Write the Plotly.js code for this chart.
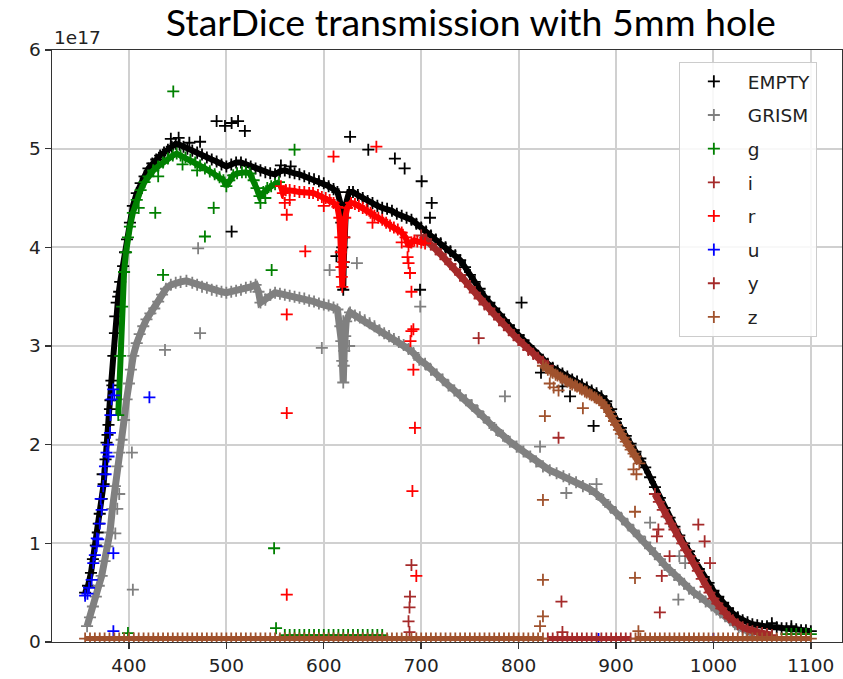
<!DOCTYPE html>
<html>
<head>
<meta charset="utf-8">
<script src="https://cdn.plot.ly/plotly-3.0.1.min.js"></script>
<style>html,body{margin:0;padding:0;background:#fff;}#chart{width:843px;height:679px;}</style>
</head>
<body>
<div id="chart"></div>
<script>
// Series names (legend order = drawing order)
const seriesNames = ['EMPTY', 'GRISM', 'g', 'i', 'r', 'u', 'y', 'z'];
const seriesColors = ['#000000', '#808080', '#008000', '#a52a2a', '#ff0000', '#0000ff', '#a52a2a', '#a0522d'];
const xTickVals = [400, 500, 600, 700, 800, 900, 1000, 1100];
const yTickVals = [0, 1, 2, 3, 4, 5, 6];
const yTickText = ['0', '1', '2', '3', '4', '5', '6'];

// Flux in units of 1e17, points are [wavelength nm, value]
const emptyCurve = [[355,0.50],[358,0.57],[361,0.70],[363,0.84],[366,0.98],[368,1.11],[370,1.30],[372,1.45],[374,1.60],[376,1.85],[377,2.02],[379,2.20],[380.5,2.36],[382,2.65],[384,2.90],[385.6,3.13],[387.4,3.44],[389,3.50],[391,3.65],[394,3.81],[396,3.95],[398,4.08],[401,4.25],[404,4.42],[408,4.55],[412,4.65],[416,4.72],[420,4.80],[424,4.85],[428,4.89],[432,4.93],[436,4.96],[440,4.99],[444,5.02],[448,5.05],[452,5.04],[456,5.02],[460,5.00],[465,4.98],[470,4.96],[475,4.94],[480,4.91],[485,4.89],[490,4.87],[495,4.84],[500,4.82],[505,4.84],[510,4.86],[515,4.86],[520,4.84],[525,4.82],[530,4.80],[535,4.78],[540,4.76],[545,4.75],[550,4.74],[555,4.77],[560,4.78],[565,4.76],[570,4.75],[575,4.74],[580,4.72],[585,4.70],[590,4.69],[595,4.67],[600,4.65],[605,4.62],[610,4.59],[614,4.56],[617,4.45],[618,4.25],[619,4.00],[619.5,3.80],[620,3.57],[620.5,3.85],[621,4.10],[623,4.45],[626,4.56],[630,4.56],[635,4.53],[640,4.50],[645,4.47],[650,4.45],[655,4.42],[660,4.40],[665,4.39],[670,4.37],[675,4.34],[680,4.32],[685,4.30],[690,4.28],[695,4.24],[700,4.20],[705,4.16],[710,4.12],[715,4.08],[720,4.04],[725,4.00],[730,3.96],[735,3.92],[740,3.87],[745,3.80],[750,3.72],[755,3.65],[760,3.58],[765,3.50],[770,3.44],[775,3.38],[780,3.32],[785,3.26],[790,3.21],[795,3.16],[800,3.11],[805,3.06],[810,3.00],[815,2.95],[820,2.90],[825,2.86],[830,2.82],[835,2.78],[840,2.75],[845,2.72],[850,2.69],[855,2.66],[860,2.64],[865,2.61],[870,2.58],[875,2.55],[880,2.52],[885,2.49],[890,2.44],[895,2.36],[900,2.26],[905,2.17],[910,2.09],[915,2.01],[920,1.93],[925,1.86],[930,1.77],[935,1.67],[940,1.57],[945,1.46],[950,1.36],[955,1.26],[960,1.17],[965,1.08],[970,1.00],[975,0.92],[980,0.83],[985,0.74],[990,0.66],[995,0.60],[1000,0.52],[1005,0.46],[1010,0.40],[1015,0.34],[1020,0.29],[1025,0.25],[1030,0.22],[1035,0.20],[1040,0.18],[1045,0.17],[1050,0.16],[1055,0.16],[1060,0.15],[1065,0.15],[1070,0.14],[1075,0.14],[1080,0.13],[1085,0.13],[1090,0.12],[1095,0.12],[1100,0.11]];
const emptyScatter = [[443,5.10],[451,5.11],[490,5.28],[498.6,5.23],[505.4,5.26],[512,5.28],[519,5.18],[473,5.07],[505.4,4.16],[627,5.12],[645.7,4.99],[673,4.90],[683,4.80],[700.5,4.67],[710.8,4.45],[709,4.30],[613,3.91],[698.8,3.57],[803,3.44],[823,2.73],[845,2.59],[852.8,2.49],[877,2.19],[381,2.45],[383,2.60],[386,3.30],[378,2.10],[373,1.70],[369,1.20],[390,3.55],[462,5.06],[556,4.83],[566,4.82],[1060,0.19],[1080,0.16]];

const grismCurve = [[357,0.16],[360,0.25],[363,0.36],[366,0.46],[369,0.57],[372,0.67],[375,0.82],[378,0.97],[380.5,1.11],[383,1.35],[385.6,1.58],[388,1.78],[390,1.92],[392.5,2.05],[395,2.25],[397.6,2.46],[400,2.62],[402,2.76],[404.4,2.90],[408,3.03],[411,3.12],[414.7,3.20],[418,3.27],[422,3.33],[426,3.38],[430,3.45],[434,3.52],[438,3.58],[443,3.62],[448,3.64],[453,3.65],[459,3.66],[465,3.64],[470,3.62],[475,3.60],[480,3.59],[485,3.57],[490,3.56],[495,3.55],[500,3.54],[505,3.55],[510,3.56],[515,3.57],[520,3.59],[525,3.60],[530,3.62],[533,3.55],[535,3.44],[540,3.47],[545,3.52],[550,3.54],[555,3.53],[560,3.52],[565,3.51],[570,3.50],[575,3.49],[580,3.48],[585,3.46],[590,3.45],[595,3.43],[600,3.42],[605,3.41],[610,3.39],[614,3.37],[617,3.20],[618,3.05],[619,2.85],[620,2.63],[620.5,2.80],[621,2.95],[622,3.10],[623,3.25],[627,3.34],[632,3.31],[637,3.29],[642,3.26],[647,3.23],[652,3.20],[657,3.16],[662,3.13],[667,3.10],[672,3.07],[677,3.04],[682,3.01],[687,2.97],[692,2.93],[698,2.86],[704,2.82],[710,2.76],[716,2.71],[722,2.66],[728,2.60],[734,2.55],[740,2.50],[746,2.45],[752,2.40],[758,2.34],[764,2.28],[770,2.22],[777,2.15],[784,2.09],[791,2.03],[798,1.98],[805,1.93],[812,1.88],[818,1.83],[825,1.78],[832,1.74],[839,1.71],[846,1.68],[852,1.65],[859,1.62],[866,1.58],[873,1.55],[880,1.50],[887,1.44],[894,1.37],[900,1.31],[906,1.25],[912,1.19],[918,1.13],[924,1.07],[930,1.01],[935,0.95],[940,0.89],[945,0.84],[950,0.78],[955,0.73],[960,0.68],[965,0.63],[970,0.59],[975,0.54],[980,0.50],[986,0.46],[992,0.41],[998,0.37],[1003,0.33],[1007,0.30],[1012,0.26],[1017,0.22],[1022,0.18],[1026,0.15],[1030,0.13],[1034,0.11],[1038,0.10],[1042,0.08]];
const grismScatter = [[473,3.13],[437,2.96],[598,2.98],[606,3.77],[403,1.92],[404,0.53],[634,3.84],[699,3.40],[786,2.49],[822,1.98],[849,1.51],[880,1.60],[935,1.21],[965,0.87],[971,0.80],[964,0.43],[471,3.99],[388,1.35],[390,1.50],[386,1.10],[620,3.25],[626,3.00]];

const gCurve = [[389,2.30],[391,2.90],[393,3.40],[395,3.75],[397,3.95],[399,4.10],[401,4.21],[404,4.35],[408,4.48],[412,4.58],[416,4.66],[420,4.72],[425,4.78],[430,4.82],[435,4.86],[440,4.90],[445,4.93],[449,4.95],[453,4.93],[458,4.91],[463,4.89],[468,4.86],[473,4.83],[478,4.80],[483,4.77],[488,4.74],[493,4.71],[497,4.68],[500,4.62],[503,4.68],[507,4.73],[511,4.75],[516,4.76],[520,4.76],[524,4.75],[528,4.68],[531,4.60],[534,4.52],[538,4.56],[542,4.60],[546,4.62],[550,4.64],[554,4.66]];
const gScatter = [[410,4.40],[430,4.72],[455,4.84],[470,4.78],[535,4.45],[540,4.50],[445.5,5.58],[427,4.35],[435,3.72],[478,4.11],[487,4.40],[546.5,3.77],[570,4.99],[549,0.95],[551,0.14],[399,0.09]];
const gBaseA = [[560,0.07],[565,0.07],[570,0.07],[575,0.07],[580,0.07],[585,0.07],[590,0.07],[595,0.07],[600,0.07],[605,0.07],[610,0.07],[615,0.07],[620,0.07],[625,0.07],[630,0.07],[635,0.07],[640,0.07],[645,0.07],[650,0.07],[655,0.07],[660,0.07]];
const gBaseB = [[1075,0.08],[1080,0.08],[1085,0.08],[1090,0.08],[1095,0.08],[1100,0.08]];

const iCurve = [[700,4.12],[705,4.08],[710,4.03],[715,3.98],[720,3.93],[725,3.88],[730,3.83],[735,3.78],[740,3.72],[745,3.66],[750,3.60],[755,3.54],[760,3.48],[765,3.42],[770,3.38],[775,3.32],[780,3.27],[785,3.21],[790,3.16],[795,3.11],[800,3.06],[805,3.01],[810,2.96],[815,2.92],[820,2.88],[825,2.84],[830,2.80]];
const iScatter = [[759,3.08],[841,2.07],[844,0.41],[690,0.78],[688.5,0.46],[688,0.35],[687,0.21],[845,0.10],[688,0.10]];

const rCurve = [[556,4.62],[558,4.55],[561,4.58],[565,4.58],[570,4.57],[575,4.56],[580,4.56],[585,4.55],[589,4.55],[594,4.53],[598,4.51],[602,4.50],[606,4.48],[610,4.45],[614,4.41],[616,4.30],[617,4.10],[617.5,3.95],[618,3.80],[618.5,3.70],[619,3.60],[620,3.85],[621,4.10],[622,4.30],[624,4.40],[628,4.45],[632,4.44],[636,4.42],[640,4.40],[644,4.38],[648,4.35],[652,4.32],[656,4.30],[660,4.28],[664,4.25],[668,4.22],[672,4.20],[676,4.18],[680,4.15],[684,4.10],[687,4.01],[690,4.05],[693,4.07],[696,4.06],[700,4.05],[704,4.04]];
const rScatter = [[560,4.45],[565,4.48],[600,4.42],[650,4.25],[680,4.05],[686,3.90],[654,5.02],[610,4.92],[562,4.33],[581,3.96],[562,3.32],[692,3.17],[687,3.84],[688.5,3.74],[690,3.15],[692,2.76],[693.6,2.17],[691,1.53],[562,2.32],[562,0.48],[695,0.67],[690,3.55],[689,3.05]];

const uPts = [[355,0.47],[357.4,0.49],[359,0.55],[361.7,0.63],[363.4,0.80],[365,0.88],[366.8,0.97],[368.5,1.04],[370,1.20],[372,1.34],[373.6,1.58],[375.4,1.78],[377,1.92],[378.5,2.00],[380.5,2.12],[382.2,2.46],[383.9,2.56],[385,2.50],[381,2.30],[379,1.88],[376,1.70],[371,1.45],[367,1.05],[421,2.48],[384,0.90],[384,0.11],[882,0.03],[1000,0.03]];

const yCurve = [[940,1.50],[944,1.42],[948,1.34],[952,1.27],[956,1.20],[960,1.14],[964,1.07],[968,1.00],[972,0.93],[976,0.87],[980,0.80],[984,0.72],[988,0.64],[992,0.56],[996,0.50],[1000,0.44],[1004,0.39],[1008,0.34],[1012,0.29],[1016,0.25],[1020,0.22],[1025,0.18],[1030,0.15],[1035,0.13],[1040,0.11],[1045,0.10],[1050,0.09],[1055,0.08],[1060,0.07]];
const yScatter = [[984.5,1.19],[991,1.02],[996.5,0.80],[955,0.87],[947,0.67],[945,0.30],[943.5,1.14],[942,1.07]];
const yBase = [[830,0.035],[835,0.035],[840,0.035],[845,0.035],[850,0.035],[855,0.035],[860,0.035],[865,0.035],[870,0.035],[875,0.035],[880,0.035],[885,0.035],[890,0.035],[895,0.035],[900,0.035],[905,0.035],[910,0.035],[915,0.035]];

const zCurve = [[825,2.80],[828,2.78],[830,2.76],[833,2.74],[835,2.73],[838,2.71],[840,2.70],[843,2.68],[845,2.67],[848,2.65],[850,2.64],[853,2.62],[855,2.61],[858,2.60],[860,2.59],[863,2.57],[865,2.56],[868,2.54],[870,2.53],[873,2.51],[875,2.50],[878,2.48],[880,2.47],[883,2.45],[885,2.43],[888,2.40],[890,2.37],[893,2.33],[895,2.29],[898,2.24],[900,2.20],[903,2.15],[905,2.11],[908,2.07],[910,2.03],[913,1.99],[915,1.95],[918,1.91],[920,1.88],[924,1.81]];
const zScatter = [[827,2.29],[866,2.37],[825,1.44],[919.5,1.32],[919.5,0.65],[923,0.11],[825,0.63],[825,0.26],[822,0.16],[832,2.62],[841,2.55],[836,2.58],[918,1.75],[921,1.70]];
const zBaseA = [[355,0.035],[360,0.035],[365,0.035],[370,0.035],[375,0.035],[380,0.035],[385,0.035],[390,0.035],[395,0.035],[400,0.035],[405,0.035],[410,0.035],[415,0.035],[420,0.035],[425,0.035],[430,0.035],[435,0.035],[440,0.035],[445,0.035],[450,0.035],[455,0.035],[460,0.035],[465,0.035],[470,0.035],[475,0.035],[480,0.035],[485,0.035],[490,0.035],[495,0.035],[500,0.035],[505,0.035],[510,0.035],[515,0.035],[520,0.035],[525,0.035],[530,0.035],[535,0.035],[540,0.035],[545,0.035],[550,0.035],[555,0.035],[560,0.035],[565,0.035],[570,0.035],[575,0.035],[580,0.035],[585,0.035],[590,0.035],[595,0.035],[600,0.035],[605,0.035],[610,0.035],[615,0.035],[620,0.035],[625,0.035],[630,0.035],[635,0.035],[640,0.035],[645,0.035],[650,0.035],[655,0.035],[660,0.035],[665,0.035],[670,0.035],[675,0.035],[680,0.035],[685,0.035],[690,0.035],[695,0.035],[700,0.035],[705,0.035],[710,0.035],[715,0.035],[720,0.035],[725,0.035],[730,0.035],[735,0.035],[740,0.035],[745,0.035],[750,0.035],[755,0.035],[760,0.035],[765,0.035],[770,0.035],[775,0.035],[780,0.035],[785,0.035],[790,0.035],[795,0.035],[800,0.035],[805,0.035],[810,0.035],[815,0.035],[820,0.035],[825,0.035]];
const zBaseB = [[920,0.035],[925,0.035],[930,0.035],[935,0.035],[940,0.035],[945,0.035],[950,0.035],[955,0.035],[960,0.035],[965,0.035],[970,0.035],[975,0.035],[980,0.035],[985,0.035],[990,0.035],[995,0.035],[1000,0.035],[1005,0.035],[1010,0.035],[1015,0.035],[1020,0.035],[1025,0.035],[1030,0.035],[1035,0.035],[1040,0.035],[1045,0.035],[1050,0.035],[1055,0.035],[1060,0.035],[1065,0.035],[1070,0.035],[1075,0.035],[1080,0.035],[1085,0.035],[1090,0.035],[1095,0.035],[1100,0.035]];

// Per series: bands (dense, drawn as solid band + markers), others (markers only)
const seriesBands = [
  [[emptyCurve, 6]], [[grismCurve, 7]], [[gCurve, 6]], [[iCurve, 7]], [[rCurve, 6]], [], [[yCurve, 7], [yBase, 5]], [[zCurve, 7], [zBaseA, 5], [zBaseB, 5]]
];
const seriesOthers = [
  [emptyScatter], [grismScatter], [gScatter, gBaseA, gBaseB], [iScatter], [rScatter], [uPts], [yScatter], [zScatter]
];

const traces = [];
seriesNames.forEach((name, k) => {
  const col = seriesColors[k];
  seriesBands[k].forEach(([pts, w]) => {
    traces.push({type: 'scatter', mode: 'lines', name: name, legendgroup: name, showlegend: false,
      x: pts.map(p => p[0]), y: pts.map(p => p[1]), line: {color: col, width: w}, hoverinfo: 'skip'});
  });
  const all = [].concat(...seriesBands[k].map(b => b[0]), ...seriesOthers[k]);
  traces.push({type: 'scatter', mode: 'markers', name: name, legendgroup: name, showlegend: true,
    x: all.map(p => p[0]), y: all.map(p => p[1]),
    marker: {symbol: 'cross-thin', size: 8.6, color: col, line: {width: 1.8, color: col}}});
});

const axisCommon = {
  showline: true, mirror: true, linecolor: '#333333', linewidth: 1.4,
  ticks: 'outside', ticklen: 6, tickwidth: 1.4, tickcolor: '#333333',
  showgrid: true, gridcolor: '#d0d0d0', gridwidth: 2, zeroline: false,
  tickfont: {family: 'DejaVu Sans', size: 18.5, color: '#222222'}
};

const layout = {
  width: 843, height: 679,
  margin: {l: 52, r: 1, t: 50, b: 37, pad: 0},
  paper_bgcolor: '#ffffff', plot_bgcolor: '#ffffff',
  title: {text: 'StarDice transmission with 5mm hole', font: {family: 'Lato', size: 37.5, color: '#000000'},
          x: 0.5585, xref: 'container', xanchor: 'center', y: 0.966, yref: 'container', yanchor: 'middle'},
  xaxis: Object.assign({}, axisCommon, {range: [321, 1132], tickvals: xTickVals, ticktext: xTickVals.map(String)}),
  yaxis: Object.assign({}, axisCommon, {range: [0, 6], tickvals: yTickVals, ticktext: yTickText}),
  showlegend: true,
  legend: {x: 0.7935, y: 0.98, xanchor: 'left', yanchor: 'top', bgcolor: 'rgba(255,255,255,0.85)',
           bordercolor: '#cccccc', borderwidth: 1, tracegroupgap: 6.6, itemwidth: 58,
           font: {family: 'DejaVu Sans', size: 18.5, color: '#222222'}},
  annotations: [{text: '1e17', xref: 'paper', yref: 'paper', x: 0, y: 1, xanchor: 'left', yanchor: 'bottom',
                 showarrow: false, font: {family: 'DejaVu Sans', size: 18.5, color: '#222222'}}]
};

Plotly.newPlot('chart', traces, layout, {displayModeBar: false, staticPlot: true});
</script>
</body>
</html>
